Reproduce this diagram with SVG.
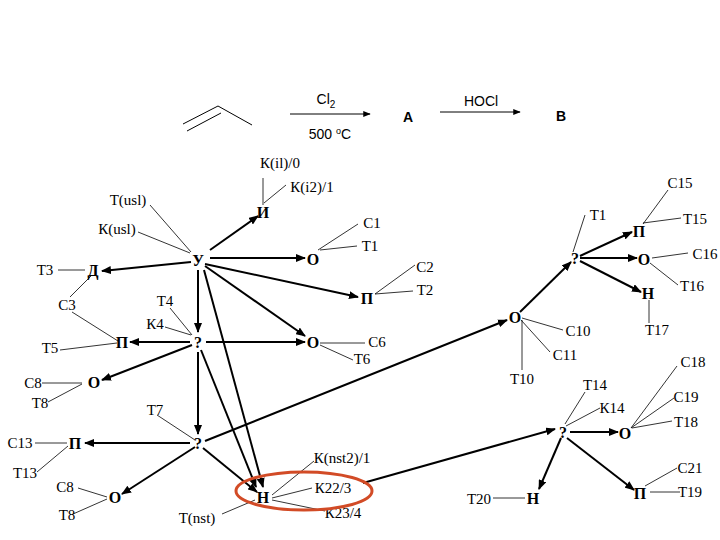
<svg xmlns="http://www.w3.org/2000/svg" width="720" height="540" viewBox="0 0 720 540">
<style>
.l,.n{font-family:"Liberation Serif","Times New Roman",serif;fill:#000}
.n{font-weight:bold;font-size:16px;text-anchor:middle;dominant-baseline:central}
.l{font-size:15px;text-anchor:middle;dominant-baseline:central}
.s{font-family:"Liberation Sans",Arial,sans-serif;font-size:14px;text-anchor:middle;fill:#000}
.t{stroke:#000;stroke-width:0.8;fill:none}
.a{stroke:#000;stroke-width:2;fill:none;marker-end:url(#ah)}
.r{stroke:#000;stroke-width:1;fill:none}
</style>
<defs>
<marker id="ah" viewBox="0 0 10 8" refX="9" refY="4" markerWidth="5" markerHeight="4" orient="auto" markerUnits="strokeWidth"><path d="M0,0L10,4L0,8z" fill="#000"/></marker>
<marker id="ah2" viewBox="0 0 10 8" refX="9" refY="4" markerWidth="8" markerHeight="6" orient="auto" markerUnits="strokeWidth"><path d="M0,0L10,4L0,8z" fill="#000"/></marker>
</defs>
<g id="reaction">
<path class="r" d="M183,124L218,106L252,125M187,131L221,113"/>
<line class="r" x1="290" y1="114" x2="370" y2="114" marker-end="url(#ah2)"/>
<text class="s" x="326" y="104">Cl<tspan font-size="10" dy="4">2</tspan></text>
<text class="s" x="330" y="139">500 <tspan font-size="9" dy="-5">o</tspan><tspan dy="5">C</tspan></text>
<text class="s" x="408" y="122" font-weight="bold" font-size="16">A</text>
<line class="r" x1="440" y1="112" x2="520" y2="112" marker-end="url(#ah2)"/>
<text class="s" x="481" y="106">HOCl</text>
<text class="s" x="561" y="121" font-weight="bold" font-size="16">B</text>
</g>
<g id="connectors">
<path class="t" d="M263,178V205M286,185L264,203M150,205L191,252M138,232L190,253M358,224L318,250M357,246L320,250M58,270H85M70,297L92,275M72,312L118,341M60,350L117,343M170,308L192,335M165,327L191,335M415,265L375,294M413,291L375,294M320,343H365M320,345L353,360M42,383H82M48,402L82,384M157,415L195,440M35,443H67M37,472L68,446M78,488L107,497M73,514L107,499M222,514L255,500M314,461L272,495M312,488L272,498M325,511L272,500M585,215L573,252M668,190L643,224M681,218L643,223M688,253L652,258M678,285L650,263M649,300V323M563,330L522,318M550,352L521,320M522,320V370M677,366L631,428M674,398L631,428M672,421L632,428M585,392L565,424M600,408L566,426M677,468L645,486M680,492H650M493,498H525"/>
<line class="a" x1="210" y1="250" x2="258" y2="216"/>
<line class="a" x1="210" y1="258" x2="305" y2="258"/>
<line class="a" x1="191" y1="262" x2="102" y2="271"/>
<line class="a" x1="205" y1="264" x2="358" y2="297"/>
<line class="a" x1="205" y1="266" x2="305" y2="336"/>
<line class="a" x1="198" y1="270" x2="198" y2="332"/>
<line class="a" x1="190" y1="342" x2="130" y2="342"/>
<line class="a" x1="206" y1="342" x2="305" y2="342"/>
<line class="a" x1="192" y1="345" x2="102" y2="380"/>
<line class="a" x1="198" y1="352" x2="198" y2="434"/>
<line class="a" x1="204" y1="270" x2="263" y2="487"/>
<line class="a" x1="201" y1="350" x2="256" y2="487"/>
<line class="a" x1="190" y1="443" x2="85" y2="443"/>
<line class="a" x1="195" y1="447" x2="122" y2="494"/>
<line class="a" x1="203" y1="448" x2="257" y2="492"/>
<line class="a" x1="205" y1="441" x2="507" y2="320"/>
<line class="a" x1="363" y1="483" x2="555" y2="429"/>
<line class="a" x1="520" y1="312" x2="571" y2="262"/>
<line class="a" x1="580" y1="256" x2="632" y2="232"/>
<line class="a" x1="580" y1="258" x2="637" y2="258"/>
<line class="a" x1="580" y1="261" x2="641" y2="292"/>
<line class="a" x1="570" y1="432" x2="618" y2="432"/>
<line class="a" x1="561" y1="438" x2="539" y2="489"/>
<line class="a" x1="567" y1="438" x2="634" y2="490"/>
</g>
<g id="nodes" font-family="Liberation Serif, serif">
<g id="n-I"><text class="n" x="263" y="212">И</text></g>
<g id="n-U"><text class="n" x="198" y="260">У</text></g>
<g id="n-O1"><text class="n" x="313" y="259">О</text></g>
<g id="n-D"><text class="n" x="93" y="270">Д</text></g>
<g id="n-P2"><text class="n" x="367" y="298">П</text></g>
<g id="n-Q1"><text class="n" x="198" y="342">?</text></g>
<g id="n-P5"><text class="n" x="122" y="342">П</text></g>
<g id="n-O6"><text class="n" x="313" y="342">О</text></g>
<g id="n-O8"><text class="n" x="94" y="382">О</text></g>
<g id="n-Q2"><text class="n" x="198" y="443">?</text></g>
<g id="n-P13"><text class="n" x="75" y="443">П</text></g>
<g id="n-O8b"><text class="n" x="115" y="497">О</text></g>
<g id="n-N"><text class="n" x="263" y="497">Н</text></g>
<g id="n-O10"><text class="n" x="515" y="317">О</text></g>
<g id="n-Q3"><text class="n" x="575" y="258">?</text></g>
<g id="n-P15"><text class="n" x="639" y="231">П</text></g>
<g id="n-O16"><text class="n" x="644" y="259">О</text></g>
<g id="n-N17"><text class="n" x="648" y="293">Н</text></g>
<g id="n-Q4"><text class="n" x="563" y="432">?</text></g>
<g id="n-O18"><text class="n" x="625" y="433">О</text></g>
<g id="n-N20"><text class="n" x="533" y="498">Н</text></g>
<g id="n-P19"><text class="n" x="640" y="493">П</text></g>
</g>
<g id="labels" font-family="Liberation Serif, serif">
<text class="l" x="280" y="163">К(il)/0</text>
<text class="l" x="312" y="187">К(i2)/1</text>
<text class="l" x="128" y="200">Т(usl)</text>
<text class="l" x="117" y="229">К(usl)</text>
<text class="l" x="372" y="223">С1</text>
<text class="l" x="370" y="246">Т1</text>
<text class="l" x="45" y="270">Т3</text>
<text class="l" x="67" y="305">С3</text>
<text class="l" x="165" y="301">Т4</text>
<text class="l" x="155" y="324">К4</text>
<text class="l" x="50" y="348">Т5</text>
<text class="l" x="425" y="267">С2</text>
<text class="l" x="425" y="290">Т2</text>
<text class="l" x="377" y="342">С6</text>
<text class="l" x="362" y="359">Т6</text>
<text class="l" x="33" y="383">С8</text>
<text class="l" x="40" y="403">Т8</text>
<text class="l" x="155" y="410">Т7</text>
<text class="l" x="20" y="443">С13</text>
<text class="l" x="25" y="473">Т13</text>
<text class="l" x="65" y="487">С8</text>
<text class="l" x="67" y="515">Т8</text>
<text class="l" x="197" y="518">Т(nst)</text>
<text class="l" x="342" y="458">К(nst2)/1</text>
<text class="l" x="333" y="488">К22/3</text>
<text class="l" x="343" y="513">К23/4</text>
<text class="l" x="598" y="215">Т1</text>
<text class="l" x="680" y="183">С15</text>
<text class="l" x="695" y="219">Т15</text>
<text class="l" x="705" y="254">С16</text>
<text class="l" x="692" y="286">Т16</text>
<text class="l" x="657" y="330">Т17</text>
<text class="l" x="578" y="331">С10</text>
<text class="l" x="565" y="355">С11</text>
<text class="l" x="522" y="379">Т10</text>
<text class="l" x="693" y="362">С18</text>
<text class="l" x="686" y="397">С19</text>
<text class="l" x="686" y="422">Т18</text>
<text class="l" x="595" y="385">Т14</text>
<text class="l" x="612" y="408">К14</text>
<text class="l" x="690" y="468">С21</text>
<text class="l" x="690" y="492">Т19</text>
<text class="l" x="479" y="499">Т20</text>
</g>
<ellipse cx="304" cy="491" rx="68" ry="19" fill="none" stroke="#d24b26" stroke-width="3"/>
</svg>
